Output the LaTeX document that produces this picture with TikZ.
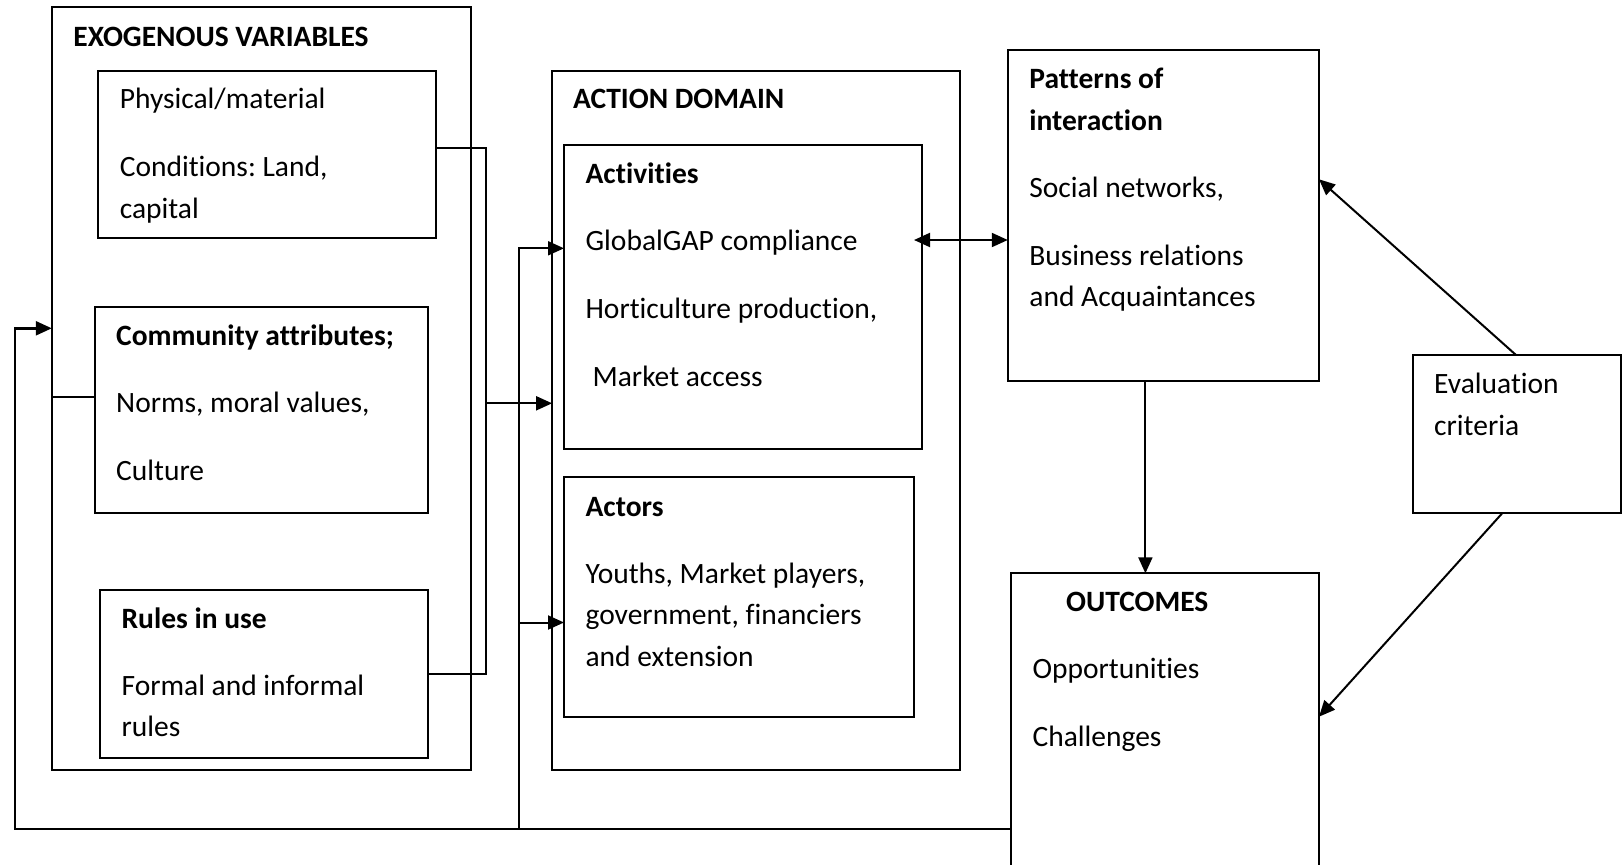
\documentclass[tikz,border=0pt]{standalone}
\usepackage{fontspec}
\setmainfont{Carlito}[RawFeature={-liga;-clig;-calt;-dlig}]
\frenchspacing
\usetikzlibrary{arrows.meta,calc}
\begin{document}
\begin{tikzpicture}[x=1pt,y=-1pt,
  box/.style={draw,line width=2pt,inner sep=0pt,outer sep=0pt,anchor=north west},
  txt/.style={anchor=base west,inner sep=0pt,align=left,font=\fontsize{29.5}{41.5}\selectfont},
  btxt/.style={txt,font=\fontsize{29.5}{41.5}\selectfont\bfseries},
  link/.style={line width=2pt},
  arr/.style={line width=2pt,-{Triangle[length=16pt,width=14pt]}},
  arrboth/.style={line width=2pt,{Triangle[length=16pt,width=14pt]}-{Triangle[length=16pt,width=14pt]}}]
\useasboundingbox (0,0) rectangle (1623,865);
\clip (0,0) rectangle (1623,865);
\fill[white] (0,0) rectangle (1623,865);

% ---- exogenous variables (text nodes anchored at their last baseline) ----
\node[box,minimum width=418.9pt,minimum height=762.7pt] (exo) at (51.8,7.3) {};
\node[btxt] (exoT) at (73.2,46.7) {EXOGENOUS VARIABLES};
\node[box,minimum width=337.5pt,minimum height=167.6pt] (phys) at (98.2,70.7) {};
\node[txt] (physT) at (119.6,218.3) {Physical/material\\[26.5pt]Conditions: Land,\\capital};
\node[box,minimum width=332.9pt,minimum height=206pt] (comm) at (94.6,306.7) {};
\node[btxt] (commH) at (116,345) {Community attributes;};
\node[txt] (commT) at (116,480.7) {Norms, moral values,\\[26.5pt]Culture};
\node[box,minimum width=327.5pt,minimum height=167.7pt] (rules) at (100,590) {};
\node[btxt] (rulesH) at (121.4,628.3) {Rules in use};
\node[txt] (rulesT) at (121.4,736.7) {Formal and informal\\rules};

% ---- action domain ----
\node[box,minimum width=407.5pt,minimum height=699.3pt] (act) at (552.1,70.7) {};
\node[btxt] (actT) at (572.9,108.3) {ACTION DOMAIN};
\node[box,minimum width=357.8pt,minimum height=304pt] (acts) at (564,145.3) {};
\node[btxt] (actsH) at (585.4,183.3) {Activities};
\node[txt] (actsT) at (585.4,386.7) {GlobalGAP compliance\\[26.5pt]Horticulture production,\\[26.5pt]\hspace{7pt}Market access};
\node[box,minimum width=349.6pt,minimum height=240pt] (actors) at (564,477.3) {};
\node[btxt] (actorsH) at (585.4,516) {Actors};
\node[txt] (actorsT) at (585.4,666) {Youths, Market players,\\government, financiers\\and extension};

% ---- patterns of interaction ----
\node[box,minimum width=311.2pt,minimum height=330.7pt] (pat) at (1007.8,50) {};
\node[btxt] (patH) at (1029.2,130) {Patterns of\\interaction};
\node[txt] (patT) at (1029.2,306.7) {Social networks,\\[26.5pt]Business relations\\and Acquaintances};

% ---- evaluation criteria ----
\node[box,minimum width=208pt,minimum height=157.7pt] (eval) at (1413,355) {};
\node[txt] (evalT) at (1434,435) {Evaluation\\criteria};

% ---- outcomes ----
\node[box,minimum width=308pt,minimum height=320pt] (out) at (1011,573.3) {};
\node[btxt] (outH) at (1065.9,611.7) {OUTCOMES};
\node[txt] (outT) at (1032.4,746.7) {Opportunities\\[26.5pt]Challenges};

% ---- bus from the exogenous boxes into the action domain ----
\coordinate (j1) at (486.4,147.7);
\coordinate (j2) at (486.4,674.3);
\coordinate (j3) at (486.4,403.3);
\draw[link] (phys.east|-j1) -- (j1) -- (j2) -- (rules.east|-j2);
\draw[arr] (j3) -- (act.west|-j3);
\coordinate (c1) at (70,397.3);
\draw[link] (comm.west|-c1) -- (exo.west|-c1);

% ---- feedback from outcomes ----
\coordinate (f1) at (15,829);
\coordinate (f2) at (15,328.3);
\draw[arr,line width=2.4pt] (out.west|-f1) -- (f1) -- (f2) -- (exo.west|-f2);
\coordinate (v1) at (519.3,829);
\coordinate (v2) at (519.3,248.3);
\coordinate (v3) at (519.3,622.5);
\draw[arr] (v1) -- (v2) -- (acts.west|-v2);
\draw[arr] (v3) -- (actors.west|-v3);

% ---- right-hand links ----
\coordinate (d1) at (914,240);
\draw[arrboth] (d1) -- (pat.west|-d1);
\coordinate (p1) at (1145.4,0);
\draw[arr] (pat.south-|p1) -- (out.north-|p1);
\coordinate (e1) at (1516,355);
\coordinate (e2) at (1319,179.3);
\draw[arr] (eval.north-|e1) -- (pat.east|-e2);
\coordinate (e3) at (1502.7,512.7);
\coordinate (e4) at (1319,716.7);
\draw[arr] (eval.south-|e3) -- (out.east|-e4);
\end{tikzpicture}
\end{document}
